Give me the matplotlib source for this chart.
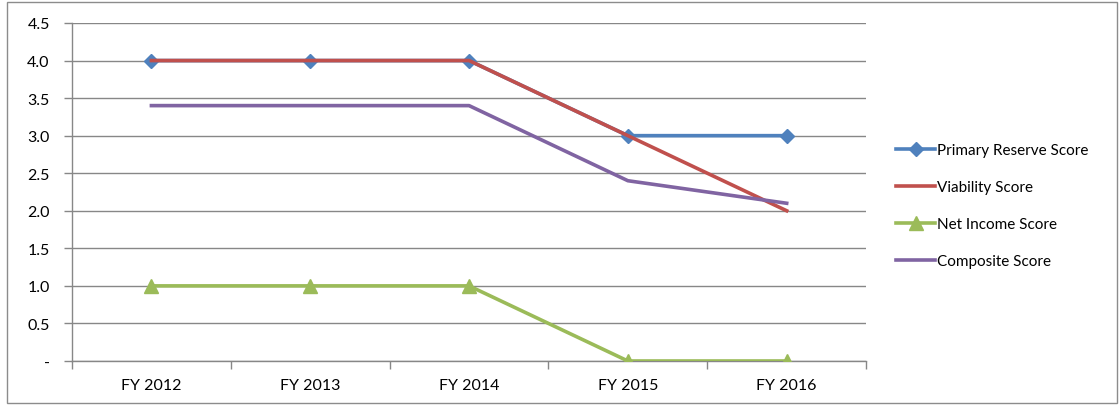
import matplotlib
matplotlib.use("Agg")
import matplotlib.pyplot as plt
from matplotlib.patches import Rectangle

years = ["FY 2012", "FY 2013", "FY 2014", "FY 2015", "FY 2016"]
primary_reserve = [4.0, 4.0, 4.0, 3.0, 3.0]
viability = [4.0, 4.0, 4.0, 3.0, 2.0]
net_income = [1.0, 1.0, 1.0, 0.0, 0.0]
composite = [3.4, 3.4, 3.4, 2.4, 2.1]
yticks = [0, 0.5, 1.0, 1.5, 2.0, 2.5, 3.0, 3.5, 4.0, 4.5]
ytick_labels = ["-", "0.5", "1.0", "1.5", "2.0", "2.5", "3.0", "3.5", "4.0", "4.5"]

plt.rcParams["font.family"] = ["Lato", "DejaVu Sans"]

BLUE = "#4F81BD"
RED = "#C0504D"
GREEN = "#9BBB59"
PURPLE = "#8064A2"
GRID = "#878787"

fig = plt.figure(figsize=(11.2, 4.06), dpi=100)
ax = fig.add_axes([0.0643, 0.1084, 0.7090, 0.8325])

x = list(range(len(years)))
ax.plot(x, primary_reserve, color=BLUE, lw=2.6, marker="D", ms=7,
        label="Primary Reserve Score", zorder=3)
ax.plot(x, viability, color=RED, lw=2.6, label="Viability Score", zorder=4)
ax.plot(x, net_income, color=GREEN, lw=2.6, marker="^", ms=10,
        label="Net Income Score", zorder=5)
ax.plot(x, composite, color=PURPLE, lw=2.6, label="Composite Score", zorder=6)

ax.set_xlim(-0.5, 4.5)
ax.set_ylim(0, 4.5)
ax.set_yticks(yticks)
ax.set_yticklabels(ytick_labels, fontsize=11.5)
ax.set_xticks(x)
ax.set_xticklabels(years, fontsize=11.5)
ax.set_xticks([i - 0.5 for i in range(len(years) + 1)], minor=True)
ax.tick_params(axis="x", which="major", length=0, pad=12)
ax.tick_params(axis="x", which="minor", length=6, color=GRID, width=1)
ax.tick_params(axis="y", length=6, color=GRID, width=1, pad=10)

ax.grid(True, axis="y", color=GRID, lw=1)
ax.set_axisbelow(True)
for side in ["top", "right"]:
    ax.spines[side].set_visible(False)
for side in ["left", "bottom"]:
    ax.spines[side].set_color(GRID)
    ax.spines[side].set_linewidth(1)

ax.legend(loc="center left", bbox_to_anchor=(1.02, 0.46), frameon=False,
          fontsize=11, handlelength=2.6, handletextpad=0.1, labelspacing=1.5)

fig.patches.append(Rectangle((0.006, 0.005), 0.991, 0.987,
                             transform=fig.transFigure, fill=False,
                             edgecolor="#8c8c8c", lw=1))

fig.savefig("out.png", dpi=100)
